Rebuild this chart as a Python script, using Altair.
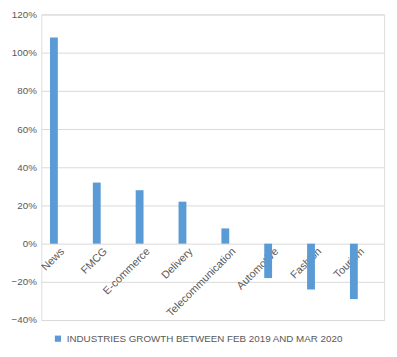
import altair as alt
import pandas as pd

industries = ["News", "FMCG", "E-commerce", "Delivery", "Telecommunication",
              "Automotive", "Fashion", "Tourism"]
growth = [1.08, 0.32, 0.28, 0.22, 0.08, -0.18, -0.24, -0.29]
series_name = "INDUSTRIES GROWTH BETWEEN FEB 2019 AND MAR 2020"
y_ticks = [-0.4, -0.2, 0.0, 0.2, 0.4, 0.6, 0.8, 1.0, 1.2]

df = pd.DataFrame({"industry": industries, "growth": growth, "series": series_name})

FONT = "Liberation Sans"
GREY = "#595959"

chart = alt.Chart(df).mark_bar(width=8, xOffset=-9, color="#5B9BD5").encode(
    x=alt.X("industry:N", sort=industries, title=None,
            scale=alt.Scale(paddingInner=0, paddingOuter=0),
            axis=alt.Axis(labelAngle=-45, labelAlign="right", labelBaseline="middle",
                          domain=False, ticks=False, offset=-78, labelPadding=6,
                          labelFont=FONT, labelFontSize=11, labelColor=GREY)),
    y=alt.Y("growth:Q", title=None,
            scale=alt.Scale(domain=[-0.4, 1.2], nice=False, zero=False),
            axis=alt.Axis(values=y_ticks, format=".0%", domain=False, ticks=False,
                          labelPadding=5, gridColor="#D9D9D9", gridWidth=1,
                          labelFont=FONT, labelFontSize=10, labelColor=GREY)),
    color=alt.Color("series:N", scale=alt.Scale(range=["#5B9BD5"]),
                    legend=alt.Legend(title=None, orient="none", legendX=12, legendY=326,
                                      symbolType="square", symbolSize=40, labelLimit=0,
                                      labelFont=FONT, labelFontSize=10, labelColor=GREY,
                                      symbolStrokeWidth=0)),
).properties(
    width=350, height=312,
    autosize=alt.AutoSizeParams(type="none"),
    padding={"left": 34, "top": 3, "right": 5, "bottom": 30},
).configure_view(strokeWidth=0).configure(background="white")

chart.save("out.html", embed_options={"renderer": "svg", "actions": False})
